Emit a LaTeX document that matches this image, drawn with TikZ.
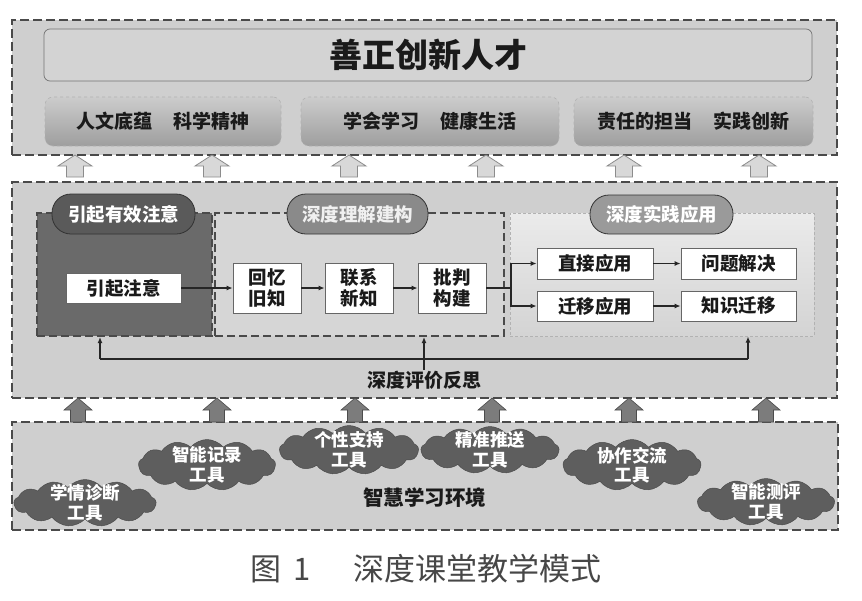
\documentclass[tikz,border=0pt]{standalone}
\usepackage{fontspec}
\setmainfont{Noto Sans CJK SC}
\usetikzlibrary{arrows.meta,shapes.symbols}
\definecolor{cborder}{HTML}{4A4A4A}
\definecolor{cbg}{HTML}{CFCFCF}
\definecolor{ctitle}{HTML}{D3D3D3}
\definecolor{ctxt}{HTML}{1A1A1A}
\definecolor{cdark}{HTML}{6A6A6A}
\definecolor{cund}{HTML}{D6D6D6}
\definecolor{cpill1}{HTML}{5A5A5A}
\definecolor{cpill2}{HTML}{8A8A8A}
\definecolor{cpill3}{HTML}{9A9A9A}
\definecolor{ccloud}{HTML}{5E5E5E}
\definecolor{cdarrow}{HTML}{7C7C7C}
\definecolor{chollow}{HTML}{D8D8D8}
\definecolor{chollowb}{HTML}{8C8C8C}
\begin{document}
\begin{tikzpicture}[x=1pt,y=-1pt,
  outerbox/.style={draw=cborder, line width=2.6pt, dash pattern=on 9pt off 4pt, fill=cbg, inner sep=0, rectangle},
  titlebox/.style={draw=black!55, line width=0.7pt, fill=ctitle, rounded corners=6pt, inner sep=0, text=ctxt},
  subbox/.style={draw=black!30, dashed, line width=0.6pt, top color=black!20, bottom color=black!38, rounded corners=8pt, inner sep=0, text=ctxt, font=\fontsize{19}{21}\selectfont\bfseries},
  region/.style={inner sep=0, rectangle, line width=2pt, dash pattern=on 8pt off 4pt},
  pill/.style={draw=black!80, line width=0.8pt, rounded corners=19pt, inner sep=0, minimum width=143pt, minimum height=40pt, font=\fontsize{18.5}{20}\selectfont\bfseries},
  wbox/.style={draw=black!60, line width=0.8pt, fill=white, inner sep=0, text=ctxt, align=center, font=\fontsize{18.5}{20.5}\selectfont\bfseries},
  conn/.style={draw=black!85, line width=1.4pt},
  arr/.style={conn, -{Latex[length=6pt,width=5pt]}},
  toolcloud/.style={cloud, cloud puffs=13, cloud puff arc=100, cloud ignores aspect, fill=ccloud, draw=black!70, line width=0.5pt, inner sep=0, minimum width=138pt, minimum height=47pt},
  ctext/.style={text=white, align=center, font=\fontsize{17.5}{19.5}\selectfont\bfseries},
  hup/.pic={\draw[draw=chollowb, fill=chollow, line width=0.8pt] (0,0) -- (17,11) -- (8.5,11) -- (8.5,22) -- (-8.5,22) -- (-8.5,11) -- (-17,11) -- cycle;},
  dup/.pic={\draw[draw=black!70, fill=cdarrow, line width=0.6pt] (0,0) -- (14,12) -- (7.5,12) -- (7.5,24) -- (-7.5,24) -- (-7.5,12) -- (-14,12) -- cycle;}
]
\useasboundingbox (0,0) rectangle (862,600);
\fill[white] (0,0) rectangle (862,600);

% ---------- top layer ----------
\node[outerbox, minimum width=825pt, minimum height=135pt] (top) at (424.5,87.5) {};
\node[titlebox, minimum width=768pt, minimum height=52pt, font=\fontsize{33}{36}\selectfont\bfseries] (title) at (428,55) {善正创新人才};
\node[subbox, minimum width=236pt, minimum height=49pt] (s1) at (163,121.5) {人文底蕴\hspace{21pt}科学精神};
\node[subbox, minimum width=258pt, minimum height=49pt] (s2) at (430,121.5) {学会学习\hspace{21pt}健康生活};
\node[subbox, minimum width=239pt, minimum height=49pt] (s3) at (693.5,121.5) {责任的担当\hspace{21pt}实践创新};

\foreach \x in {75,212,349,486,624,759} \pic at (\x,155) {hup};

% ---------- middle layer ----------
\node[outerbox, minimum width=825pt, minimum height=216pt] (mid) at (424.5,290) {};
\node[region, draw=cborder, fill=cdark, minimum width=175pt, minimum height=123pt] (att) at (124.5,274.5) {};
\node[region, draw=cborder, fill=cund, minimum width=289pt, minimum height=123pt] (und) at (359.5,274.5) {};
\node[inner sep=0, rectangle, draw=black!30, line width=1pt, dash pattern=on 3pt off 2pt, top color=black!8, bottom color=black!17, minimum width=304pt, minimum height=123pt] (prac) at (662,274.5) {};

\node[pill, fill=cpill1, text=white] (p1) at (123.5,214) {引起有效注意};
\node[pill, fill=cpill2, text=white!94!black, minimum width=141pt] (p2) at (357.5,214) {深度理解建构};
\node[pill, fill=cpill3, text=white, minimum height=39pt] (p3) at (661.5,214.5) {深度实践应用};

\node[wbox, minimum width=115pt, minimum height=30pt] (yq) at (123.5,288) {引起注意};
\node[wbox, minimum width=68pt, minimum height=50pt] (hy) at (267,288) {回忆\\旧知};
\node[wbox, minimum width=68pt, minimum height=50pt] (lx) at (359,288) {联系\\新知};
\node[wbox, minimum width=68pt, minimum height=50pt] (pp) at (452,288) {批判\\构建};
\node[wbox, minimum width=116pt, minimum height=31pt] (zj) at (595,263.5) {直接应用};
\node[wbox, minimum width=115pt, minimum height=31pt] (wt) at (738.5,263.5) {问题解决};
\node[wbox, minimum width=116pt, minimum height=30pt] (qy) at (595,306) {迁移应用};
\node[wbox, minimum width=115pt, minimum height=30pt] (zs) at (738.5,306) {知识迁移};

\draw[arr] (yq) -- (hy);
\draw[arr] (hy) -- (lx);
\draw[arr] (lx) -- (pp);
\coordinate (split) at (511,288);
\draw[conn] (pp.east) -- (split);
\draw[arr] (split) |- (zj.west);
\draw[arr] (split) |- (qy.west);
\draw[arr] (zj) -- (wt);
\draw[arr] (qy) -- (zs);

\node[text=ctxt, font=\fontsize{19}{21}\selectfont\bfseries, inner sep=1pt] (fb) at (424,380) {深度评价反思};
\coordinate (fbL) at (100,359);
\coordinate (fbR) at (748,359);
\draw[conn] (fbL) -- (fbR);
\draw[arr] (fbL) -- (fbL |- att.south);
\draw[arr] (fbR) -- (fbR |- prac.south);
\draw[arr] (fb.north) -- (fb.north |- und.south);

% ---------- bottom layer ----------
\node[outerbox, minimum width=826pt, minimum height=108pt] (bot) at (425,476) {};
\foreach \x in {78,217,355,492,629,766} \pic at (\x,398) {dup};

\node[toolcloud, minimum height=47pt, minimum width=142pt, label={[ctext]center:{学情诊断\\工具}}] (c1) at (85,503) {};
\node[toolcloud, minimum height=51pt, minimum width=137pt, label={[ctext]center:{智能记录\\工具}}] (c2) at (207,465) {};
\node[toolcloud, minimum width=139pt, minimum height=49pt, label={[ctext]center:{个性支持\\工具}}] (c3) at (349,450) {};
\node[toolcloud, minimum height=47pt, label={[ctext]center:{精准推送\\工具}}] (c4) at (490,450) {};
\node[toolcloud, minimum height=51pt, label={[ctext]center:{协作交流\\工具}}] (c5) at (632,465) {};
\node[toolcloud, minimum width=137pt, minimum height=47pt, label={[ctext]center:{智能测评\\工具}}] (c6) at (766,502) {};

\node[text=ctxt, font=\fontsize{20.5}{22}\selectfont\bfseries] (env) at (424.5,498) {智慧学习环境};

% ---------- caption ----------
\node[text=black!72, font=\fontsize{31}{33}\selectfont] (cap) at (426,569) {图\hspace{12pt}1\hspace{42pt}深度课堂教学模式};
\end{tikzpicture}
\end{document}
